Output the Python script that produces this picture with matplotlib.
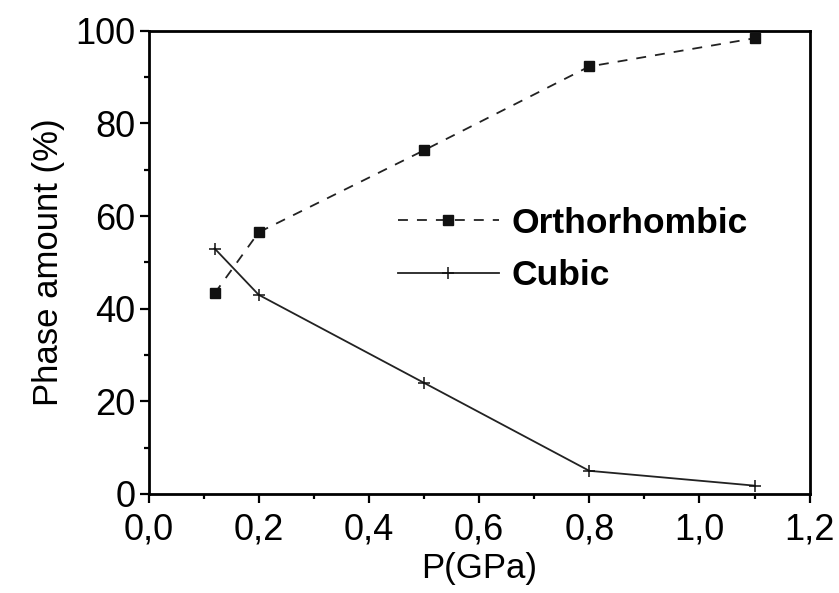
import numpy as np
import matplotlib
matplotlib.use("Agg")
import matplotlib.pyplot as plt
from matplotlib.ticker import MultipleLocator, FuncFormatter

# phase fractions vs pressure
p_ortho = [0.12, 0.20, 0.50, 0.80, 1.10]
ortho = [43.3, 56.5, 74.2, 92.3, 98.4]
p_cubic = [0.12, 0.20, 0.50, 0.80, 1.10]
cubic = [53.0, 43.0, 24.0, 5.0, 1.8]

plt.rcParams['font.family'] = ['Liberation Sans', 'DejaVu Sans']

fig = plt.figure(figsize=(8.39, 5.93), dpi=100)
ax = fig.add_axes([0.177, 0.167, 0.788, 0.781])

ax.plot(p_ortho, ortho, color='#222222', lw=1.3, ls=(0, (5.5, 5)),
        marker='s', ms=6.5, mfc='#111111', mec='#111111', label='Orthorhombic')
ax.plot(p_cubic, cubic, color='#222222', lw=1.3, ls='-',
        marker='+', ms=9, mew=1.1, mec='#111111', label='Cubic')

ax.set_xlim(0, 1.2)
ax.set_ylim(0, 100)
ax.xaxis.set_major_locator(MultipleLocator(0.2))
ax.xaxis.set_minor_locator(MultipleLocator(0.1))
ax.yaxis.set_major_locator(MultipleLocator(20))
ax.yaxis.set_minor_locator(MultipleLocator(10))
ax.xaxis.set_major_formatter(FuncFormatter(lambda v, pos: ('%.1f' % v).replace('.', ',')))
ax.yaxis.set_major_formatter(FuncFormatter(lambda v, pos: '%d' % v))

ax.tick_params(which='both', direction='out', width=1.6, labelsize=26)
ax.tick_params(axis='x', pad=7)
ax.tick_params(axis='y', pad=3)
ax.tick_params(which='major', length=6.5)
ax.tick_params(which='minor', length=3.5)
for s in ax.spines.values():
    s.set_linewidth(2)

ax.set_xlabel('P(GPa)', fontsize=25, labelpad=3)
ax.set_ylabel('Phase amount (%)', fontsize=25, labelpad=7)

leg = ax.legend(loc='upper left', bbox_to_anchor=(0.377, 0.62), frameon=False,
                prop={'weight': 'bold', 'size': 25.5}, handlelength=2.85,
                handletextpad=0.37, labelspacing=0.55, borderpad=0,
                borderaxespad=0)

fig.savefig('out.png', dpi=100)
